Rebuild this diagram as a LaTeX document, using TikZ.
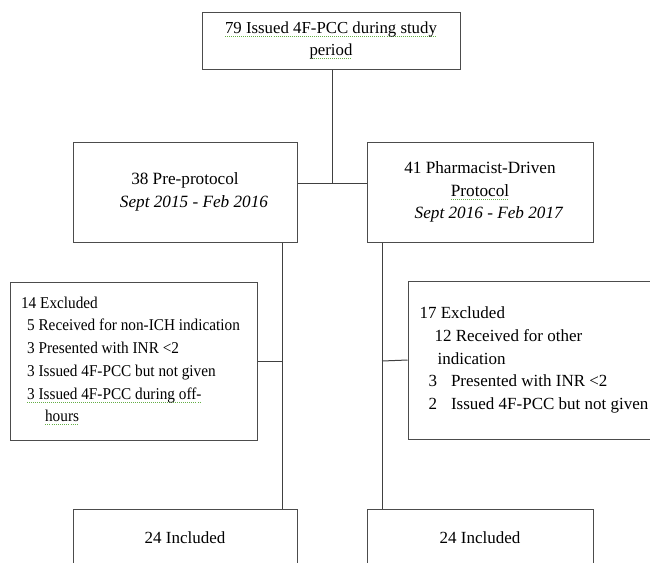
\documentclass[tikz,border=0pt]{standalone}
\usepackage{fontspec}
\setmainfont{Liberation Serif}
\newfontfamily\serre[FakeStretch=0.925]{Liberation Serif}
\definecolor{vertmot}{RGB}{100,175,70}
\newsavebox{\motbox}
\newcommand{\souligne}[1]{\sbox{\motbox}{#1}\rlap{\hbox to \wd\motbox{\color{vertmot}\xleaders\hbox{\rule[-3.5pt]{1pt}{0.9pt}\kern1pt}\hfill}}\usebox{\motbox}}

\begin{document}
\begin{tikzpicture}[x=1pt, y=-1pt]
\tikzset{cadre/.style={draw=black!70, line width=1pt, rectangle, inner sep=0pt, align=center, font=\fontsize{17.2}{22.7}\selectfont}}
\tikzset{lien/.style={draw=black!75, line width=1pt}}
\clip (0, 0) rectangle (650, 562);
\fill[white] (0, 0) rectangle (650, 562);
\node[cadre, font=\fontsize{16.8}{22}\selectfont, minimum width=258, minimum height=57] (total) at (331, 40.5) {\souligne{79 Issued 4F-PCC during study}\\ \souligne{period}};
\node[cadre, minimum width=224, minimum height=100] (pre) at (185, 192) {38 Pre-protocol\\ \hspace*{18pt}\textit{Sept 2015 - Feb 2016}};
\node[cadre, minimum width=226, minimum height=100] (proto) at (480, 192) {41 Pharmacist-Driven\\ \souligne{Protocol}\\ \hspace*{18pt}\textit{Sept 2016 - Feb 2017}};
\node[cadre, font=\serre\fontsize{16.5}{22.7}\selectfont, align=left, minimum width=247, minimum height=158] (exclpre) at (133.5, 361) {14 Excluded\\
\hspace*{6pt}5 Received for non-ICH indication\hspace*{6pt}\mbox{}\\
\hspace*{6pt}3 Presented with INR <2\\
\hspace*{6pt}3 Issued 4F-PCC but not given\\
\hspace*{6pt}\souligne{3 Issued 4F-PCC during off-}\\
\hspace*{24pt}\souligne{hours}};
\node[cadre, font=\fontsize{17}{22.8}\selectfont, align=left, minimum width=252, minimum height=158] (exclproto) at (534, 360) {17 Excluded\\
\hspace*{15pt}12 Received for other\\
\hspace*{18pt}indication\\
\hspace*{9pt}3\hspace*{14pt}Presented with INR <2\\
\hspace*{9pt}2\hspace*{14pt}Issued 4F-PCC but not given};
\node[cadre, font=\fontsize{17}{22.7}\selectfont, minimum width=224, minimum height=58] (inclpre) at (185, 538) {24 Included};
\node[cadre, font=\fontsize{17}{22.7}\selectfont, minimum width=226, minimum height=58] (inclproto) at (480, 538) {24 Included};
\coordinate (fourche) at (332, 183);
\coordinate (tronc1) at (282, 361);
\coordinate (tronc2) at (382, 361);
\draw[lien] (total.south -| fourche) -- (fourche);
\draw[lien] (pre.east |- fourche) -- (proto.west |- fourche);
\draw[lien] (pre.south -| tronc1) -- (inclpre.north -| tronc1);
\draw[lien] (proto.south -| tronc2) -- (inclproto.north -| tronc2);
\draw[lien] (exclpre.east) -- (tronc1);
\draw[lien] (tronc2) -- (exclproto.west);
\end{tikzpicture}
\end{document}
